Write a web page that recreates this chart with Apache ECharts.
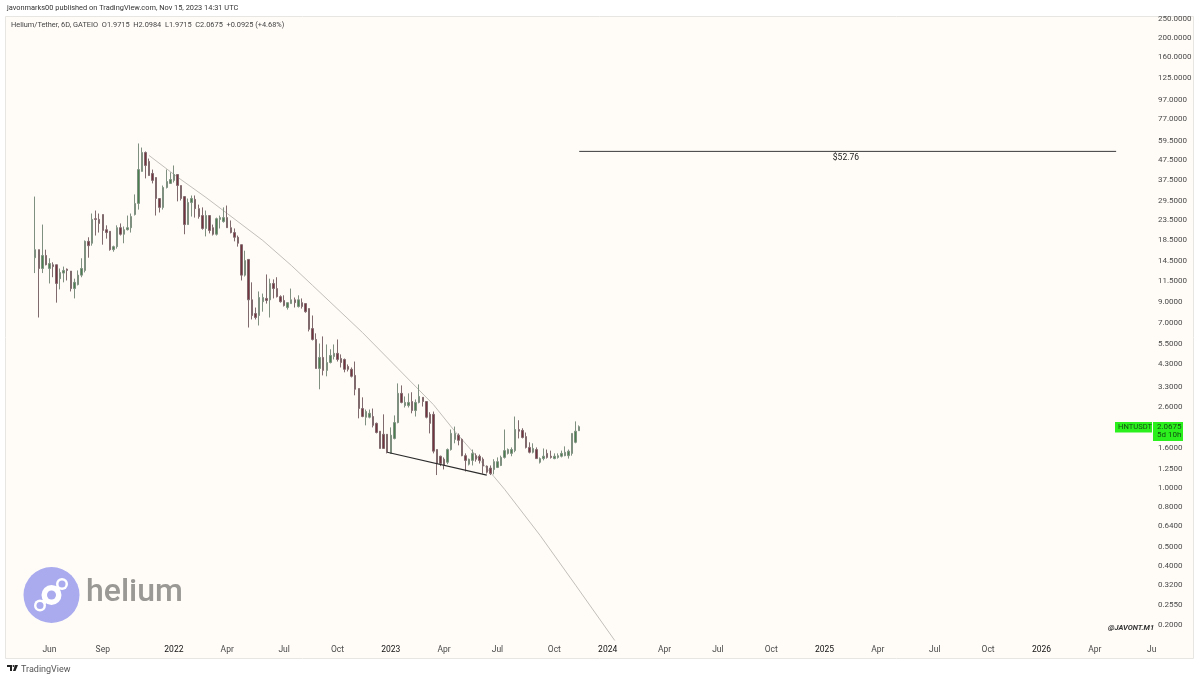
<!DOCTYPE html>
<html>
<head>
<meta charset="utf-8">
<script src="https://cdn.jsdelivr.net/npm/echarts@6/dist/echarts.min.js"></script>
<style>
  html, body { margin: 0; padding: 0; background: #fff; }
  #chart { width: 1200px; height: 680px; }
</style>
</head>
<body>
<div id="chart"></div>
<script>
// HNT/USDT 6D candles, price
const openVals = [15.1,16.6,13.3,15.5,13.3,13.9,13.9,11.8,12.6,13.2,
  12.9,10.5,11.0,12.3,13.0,18.3,17.9,23.9,23.7,25.1,
  21.0,20.6,16.6,17.2,21.5,19.9,21.0,21.5,25.1,28.6,
  41.7,52.1,46.9,40.7,38.8,30.3,27.3,34.5,36.2,37.5,
  40.2,35.3,31.0,22.3,28.9,30.0,26.9,24.8,21.3,24.8,
  21.5,19.9,23.7,23.1,24.2,21.5,20.3,19.2,17.6,12.3,
  14.8,9.2,7.83,7.65,9.0,9.35,9.2,11.15,10.5,9.55,
  9.13,8.4,8.8,9.2,8.5,8.9,8.8,8.3,6.56,5.77,
  4.1,4.67,4.01,4.4,4.72,4.9,4.61,4.56,4.2,4.06,
  3.78,3.24,2.56,2.31,2.31,2.33,2.15,1.96,1.89,1.89,
  1.51,1.8,2.17,3.06,2.65,2.65,2.78,2.5,2.75,2.92,
  2.78,2.39,2.39,1.58,1.46,1.41,1.36,1.58,1.78,1.87,
  1.78,1.47,1.33,1.39,1.47,1.46,1.41,1.3,1.27,1.25,
  1.28,1.31,1.44,1.51,1.51,1.56,2.0,1.98,1.84,1.62,
  1.53,1.58,1.36,1.42,1.51,1.46,1.42,1.44,1.46,1.47,
  1.47,1.51,1.72,1.9715];
const closeVals = [16.6,13.3,15.5,13.9,14.1,13.6,11.15,12.7,13.0,13.0,
  10.5,11.3,12.3,13.3,18.3,17.4,23.7,23.7,22.6,20.8,
  20.3,16.6,17.2,21.5,19.9,21.0,21.5,24.5,28.6,42.6,
  52.1,44.7,39.7,37.5,30.3,27.3,34.5,37.0,37.9,40.2,
  35.3,30.3,22.3,28.9,30.3,26.9,24.5,21.3,24.8,20.8,
  19.9,23.9,24.2,24.2,21.5,20.3,19.2,17.9,12.3,14.6,
  9.2,7.65,7.47,9.45,9.45,9.13,11.15,10.5,9.55,9.0,
  8.6,8.9,9.2,8.9,9.2,8.5,8.0,6.5,5.77,4.1,
  4.67,4.01,4.4,4.78,4.9,4.56,4.4,4.06,4.06,3.74,
  3.21,2.56,2.33,2.47,2.42,2.1,1.93,1.6,1.6,1.53,
  1.87,2.17,3.06,2.75,2.75,2.75,2.5,2.75,2.95,2.78,
  2.31,2.15,1.55,1.34,1.34,1.31,1.58,1.91,1.91,1.76,
  1.47,1.39,1.41,1.51,1.41,1.39,1.3,1.21,1.19,1.37,
  1.37,1.44,1.56,1.58,1.58,2.0,1.96,1.82,1.62,1.53,
  1.6,1.42,1.42,1.46,1.44,1.44,1.46,1.47,1.51,1.53,
  1.55,1.91,1.96,2.0675];
const lowVals = [12.6,7.47,12.6,13.8,11.15,12.0,8.9,10.4,11.3,11.55,
  10.15,9.35,10.9,12.0,12.7,15.1,17.4,19.6,20.3,17.6,
  18.9,16.4,16.2,16.8,19.6,17.9,20.8,20.3,24.8,26.6,
  41.7,38.4,39.7,36.2,24.8,25.7,26.6,34.1,36.2,36.6,
  29.3,29.6,19.9,22.3,24.5,24.2,23.9,21.0,19.4,20.1,
  19.6,19.6,21.3,22.8,21.5,20.1,18.3,17.2,11.55,12.1,
  6.64,7.3,7.3,6.8,8.0,8.8,7.47,9.35,9.45,8.9,
  8.5,8.2,8.8,8.4,8.4,8.3,7.9,6.34,5.7,4.1,
  3.21,3.78,3.74,4.35,4.56,4.45,4.15,3.92,3.96,3.69,
  2.99,2.28,2.31,2.1,2.28,2.05,1.91,1.6,1.6,1.51,
  1.51,1.78,2.15,2.72,2.59,2.59,2.42,2.33,2.72,2.62,
  2.28,1.91,1.51,1.17,1.3,1.25,1.33,1.56,1.7,1.66,
  1.46,1.22,1.31,1.31,1.37,1.34,1.19,1.19,1.17,1.18,
  1.27,1.3,1.42,1.49,1.46,1.53,1.8,1.8,1.6,1.51,
  1.51,1.42,1.34,1.39,1.42,1.42,1.41,1.42,1.44,1.46,
  1.42,1.47,1.7,1.9715];
const highVals = [31.0,16.6,22.3,16.6,15.0,14.3,13.9,13.3,13.6,13.3,
  12.9,11.8,13.0,15.0,18.5,19.2,25.4,26.3,25.4,25.1,
  22.1,20.6,17.4,22.1,22.6,21.8,24.8,25.4,31.8,57.9,
  55.2,52.7,48.5,42.6,38.8,30.3,35.3,42.6,41.2,44.7,
  40.2,35.3,31.0,30.3,31.4,31.4,28.2,27.3,26.3,24.8,
  22.3,24.2,24.8,27.3,27.9,23.4,21.3,19.6,17.6,16.4,
  14.8,11.3,8.4,10.15,9.9,12.4,11.8,11.7,12.0,9.7,
  9.7,8.9,10.5,9.45,9.7,9.35,8.8,8.3,7.65,6.2,
  5.5,5.98,5.44,5.14,5.44,5.77,4.84,4.61,4.3,4.15,
  4.45,3.24,2.92,2.53,2.53,2.56,2.17,1.96,2.39,1.89,
  2.05,2.36,3.44,3.36,2.95,3.06,3.1,2.85,3.4,2.92,
  2.78,2.45,2.47,1.58,1.47,1.44,1.6,2.0,2.07,1.91,
  1.8,1.51,1.42,1.58,1.51,1.49,1.44,1.31,1.31,1.41,
  1.44,1.47,2.0,1.6,1.62,2.33,2.23,2.03,1.93,1.72,
  1.7,1.62,1.44,1.6,1.58,1.56,1.51,1.51,1.56,1.64,
  1.58,1.91,2.2,2.0984];

// curved trendline: [slot, price]
const trendPoints = [[40,50.3],[48,39.0],[56,30.7],[62,25.4],[72,18.5],[80,13.8],[86,10.9],
  [100,6.27],[110,4.1],[120,2.68],[126,1.96],[132,1.47],[137,1.15],[140,0.99],
  [150,0.575],[160,0.32],[171,0.167]];
const supportPoints = [[107,1.53],[135,1.17]];
const targetPoints = [[161,52.76],[236,52.76],[312,52.76]];

const priceTicks = [250,200,160,125,97,77,59.5,47.5,37.5,29.5,23.5,18.5,14.5,11.5,9,7,5.5,4.3,3.3,2.6,
  1.6,1.25,1,0.8,0.64,0.5,0.4,0.32,0.255,0.2];
const timeTickSlots = [12,27,47,62,78,93,108,123,138,154,169,185,200,215,230,245,261,276,291,306,322];
const timeTickNames = ['Jun','Sep','2022','Apr','Jul','Oct','2023','Apr','Jul','Oct','2024','Apr','Jul','Oct','2025','Apr','Jul','Oct','2026','Apr','Ju'];

// the 6D slots, first candle sits 8 slots in, the rest is empty space to the right
const leadSlots = 8;
const totalSlots = 324;
let categories = [];
for (let i = 0; i < totalSlots; i++) {
  let d = new Date(Date.UTC(2021, 2, 23 + i * 6));
  categories.push(d.toISOString().slice(0, 10));
}

const candleData = openVals.map(function (o, i) {
  return [leadSlots + i, o, closeVals[i], lowVals[i], highVals[i]];
});

const sansFont = 'Roboto, sans-serif';
const panelColor = '#fffcf8';
const tagGreen = '#2cf01e';
const logoColor = '#a9abee';

let chart = echarts.init(document.getElementById('chart'), null, { renderer: 'canvas' });

let option = {
  animation: false,
  backgroundColor: '#ffffff',
  grid: { left: 5, top: 16.5, width: 1152, height: 624 },
  xAxis: {
    type: 'category',
    data: categories,
    boundaryGap: true,
    axisLine: { show: false },
    axisTick: { show: false },
    splitLine: { show: false },
    axisLabel: {
      show: true,
      margin: 5,
      fontFamily: sansFont,
      fontSize: 8.5,
      color: '#4a4a4a',
      hideOverlap: false,
      interval: function (idx) {
        return timeTickSlots.indexOf(idx) >= 0;
      },
      formatter: function (val, idx) {
        let name = timeTickNames[timeTickSlots.indexOf(idx)];
        return name.length === 4 ? '{yr|' + name + '}' : name;
      },
      rich: { yr: { fontFamily: sansFont, fontSize: 8.5, color: '#111' } }
    }
  },
  yAxis: {
    type: 'log',
    position: 'right',
    min: 0.167,
    max: 258,
    axisLine: { show: false },
    axisTick: { show: false },
    splitLine: { show: false },
    minorTick: { show: false },
    axisLabel: {
      customValues: priceTicks,
      margin: 1,
      align: 'left',
      padding: [2, 0, 0, 0],
      fontFamily: sansFont,
      fontSize: 8,
      color: '#4a4a4a',
      formatter: function (v) { return Number(v).toFixed(4); }
    }
  },
  series: [
    {
      name: 'trend',
      type: 'line',
      data: trendPoints,
      showSymbol: false,
      symbol: 'none',
      z: 1,
      lineStyle: { color: '#c2beb8', width: 1 }
    },
    {
      name: 'HNTUSDT',
      type: 'candlestick',
      data: candleData,
      encode: { x: 0, y: [1, 2, 3, 4] },
      barWidth: 2,
      z: 2,
      itemStyle: {
        color: '#4a8050',
        color0: '#74333f',
        borderColor: '#7f9080',
        borderColor0: '#806a6e',
        borderWidth: 1
      }
    },
    {
      name: 'support',
      type: 'line',
      data: supportPoints,
      symbol: 'none',
      z: 3,
      lineStyle: { color: '#2b2b2b', width: 1.2 }
    },
    {
      name: 'target',
      type: 'line',
      data: targetPoints,
      symbol: 'circle',
      symbolSize: 0.1,
      showAllSymbol: true,
      z: 3,
      lineStyle: { color: '#3a3a3a', width: 1 },
      label: {
        show: true,
        position: 'bottom',
        distance: 2,
        fontFamily: sansFont,
        fontSize: 8.5,
        color: '#222',
        formatter: function (p) { return p.dataIndex === 1 ? '$52.76' : ''; }
      }
    }
  ]
};
chart.setOption(option);

// price tag follows the last close on the scale
let lastClose = closeVals[closeVals.length - 1];
let tagY = chart.convertToPixel({ yAxisIndex: 0 }, lastClose);

chart.setOption({
  graphic: [
    // panel behind the plot and the price scale
    { type: 'rect', z: -10, silent: true, shape: { x: 5.5, y: 16.5, width: 1188, height: 642 },
      style: { fill: panelColor, stroke: '#e8e6e2', lineWidth: 1 } },

    { type: 'text', left: 7, top: 5, style: { text: 'javonmarks00 published on TradingView.com, Nov 15, 2023 14:31 UTC',
      font: '7.4px ' + sansFont, fill: '#333' } },
    { type: 'text', left: 11, top: 22, style: { text: 'Helium/Tether, 6D, GATEIO  O1.9715  H2.0984  L1.9715  C2.0675  +0.0925 (+4.68%)',
      font: '7.4px ' + sansFont, fill: '#444' } },

    // helium logo
    { type: 'circle', silent: true, shape: { cx: 51.5, cy: 595, r: 28 }, style: { fill: logoColor } },
    { type: 'line', silent: true, shape: { x1: 41, y1: 605, x2: 62, y2: 584 }, style: { stroke: '#fff', lineWidth: 5 } },
    { type: 'circle', silent: true, shape: { cx: 51.5, cy: 595, r: 10 }, style: { fill: '#fff' } },
    { type: 'circle', silent: true, shape: { cx: 51.5, cy: 595, r: 4.5 }, style: { fill: logoColor } },
    { type: 'circle', silent: true, shape: { cx: 40, cy: 605.5, r: 6 }, style: { fill: '#fff' } },
    { type: 'circle', silent: true, shape: { cx: 40, cy: 605.5, r: 3.5 }, style: { fill: logoColor } },
    { type: 'circle', silent: true, shape: { cx: 62, cy: 584, r: 6 }, style: { fill: '#fff' } },
    { type: 'circle', silent: true, shape: { cx: 62, cy: 584, r: 3.5 }, style: { fill: logoColor } },
    { type: 'text', left: 86, top: 577, style: { text: 'helium', font: '500 32px Roboto, sans-serif', fill: '#9b9995' } },

    // last price tags
    { type: 'rect', shape: { x: 1115, y: tagY - 4.7, width: 37, height: 10.5 }, style: { fill: tagGreen } },
    { type: 'text', left: 1118, top: tagY - 4, style: { text: 'HNTUSDT', font: '7.6px ' + sansFont, fill: '#124d12' } },
    { type: 'rect', shape: { x: 1153, y: tagY - 4.7, width: 30, height: 19 }, style: { fill: tagGreen } },
    { type: 'text', left: 1157, top: tagY - 4, style: { text: '2.0675', font: '8px ' + sansFont, fill: '#124d12' } },
    { type: 'text', left: 1157, top: tagY + 4.5, style: { text: '5d 10h', font: '8px ' + sansFont, fill: '#124d12' } },

    { type: 'text', left: 1108, top: 624, style: { text: '@JAVONT.M1', font: 'italic bold 7.5px ' + sansFont, fill: '#333' } },

    // TradingView footer
    { type: 'polygon', silent: true, shape: { points: [[7,665],[12,665],[12,671],[10,671],[10,667],[7,667]] }, style: { fill: '#222' } },
    { type: 'circle', silent: true, shape: { cx: 13.5, cy: 666, r: 1 }, style: { fill: '#222' } },
    { type: 'polygon', silent: true, shape: { points: [[15,665],[18,665],[15.5,671],[13,671]] }, style: { fill: '#222' } },
    { type: 'text', left: 21, top: 665, style: { text: 'TradingView', font: '9px ' + sansFont, fill: '#555' } }
  ]
});
</script>
</body>
</html>
